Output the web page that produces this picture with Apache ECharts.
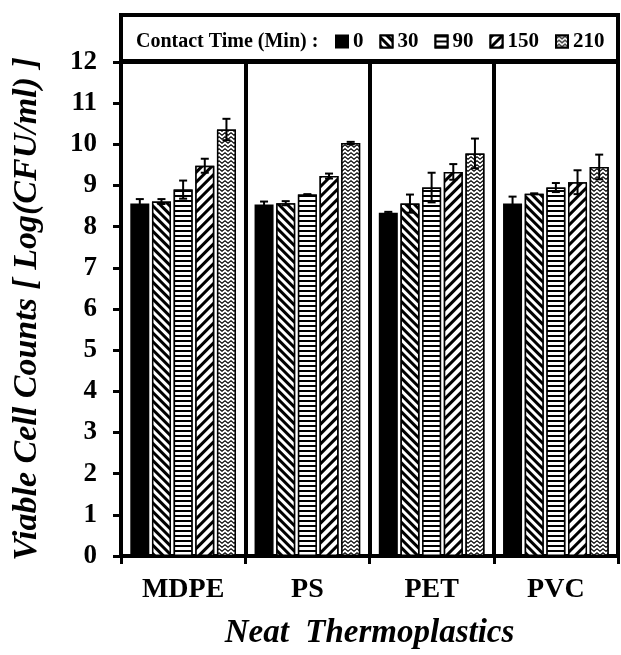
<!DOCTYPE html>
<html>
<head>
<meta charset="utf-8">
<script src="https://cdn.jsdelivr.net/npm/echarts@6/dist/echarts.min.js"></script>
<style>
  html, body { margin: 0; padding: 0; background: #fff; }
  #chart { width: 621px; height: 655px; }
</style>
</head>
<body>
<div id="chart"></div>
<script>
// plastics on the x axis, contact times in the legend
const categories = ["MDPE", "PS", "PET", "PVC"];
const times = ["0", "30", "90", "150", "210"];

// mean log(CFU/ml) for each contact time
const t0 = [8.56, 8.54, 8.34, 8.56];
const t30 = [8.61, 8.57, 8.56, 8.80];
const t90 = [8.90, 8.78, 8.95, 8.95];
const t150 = [9.48, 9.23, 9.33, 9.08];
const t210 = [10.36, 10.03, 9.78, 9.45];

// error bar half-lengths
const e0 = [0.11, 0.07, 0.02, 0.17];
const e30 = [0.06, 0.05, 0.22, 0.01];
const e90 = [0.22, 0.01, 0.36, 0.11];
const e150 = [0.17, 0.06, 0.19, 0.29];
const e210 = [0.26, 0.03, 0.36, 0.30];

const yTicks = { min: 0, max: 12, interval: 1 };

const means = [t0, t30, t90, t150, t210];
const errs = [e0, e30, e90, e150, e210];

const font = "Liberation Serif";
const barWidth = 19;
const barGap = 0.14;

// fill patterns, one per contact time
const decals = [
  null,
  { symbol: "rect", symbolSize: 1, color: "#000", backgroundColor: "#fff",
    dashArrayX: [1, 0], dashArrayY: [3, 3], rotation: Math.PI / 4 },
  { symbol: "rect", symbolSize: 1, color: "#000", backgroundColor: "#fff",
    dashArrayX: [1, 0], dashArrayY: [2, 3], rotation: 0 },
  { symbol: "rect", symbolSize: 1, color: "#000", backgroundColor: "#fff",
    dashArrayX: [1, 0], dashArrayY: [3, 4], rotation: -Math.PI / 4 },
  { symbol: "path://M0,3 L3,0 L6,3 L6,5 L3,2 L0,5 Z", symbolSize: 1, symbolKeepAspect: false,
    color: "#000", backgroundColor: "#fff",
    dashArrayX: [6, 0], dashArrayY: [4, 0], rotation: 0 }
];

const barSeries = times.map(function (t, i) {
  return {
    name: t,
    type: "bar",
    barWidth: barWidth,
    barGap: (barGap * 100) + "%",
    data: means[i],
    itemStyle: {
      color: i === 0 ? "#000" : "#fff",
      borderColor: "#000",
      borderWidth: 1.5,
      decal: decals[i] || undefined
    },
    z: 2
  };
});

const errData = [];
means.forEach(function (arr, s) {
  arr.forEach(function (v, c) {
    errData.push([c, v, errs[s][c], s]);
  });
});

const errSeries = {
  type: "custom",
  data: errData,
  encode: { x: 0, y: 1 },
  z: 5,
  silent: true,
  renderItem: function (params, api) {
    const c = api.value(0), v = api.value(1), e = api.value(2), s = api.value(3);
    const pitch = barWidth * (1 + barGap);
    const x = api.coord([c, v])[0] + (s - 2) * pitch;
    const hi = api.coord([c, v + e])[1];
    const lo = api.coord([c, v - e])[1];
    const cap = 4;
    const st = { stroke: "#000", lineWidth: 2 };
    return {
      type: "group",
      children: [
        { type: "line", shape: { x1: x, y1: hi, x2: x, y2: lo }, style: st },
        { type: "line", shape: { x1: x - cap, y1: hi, x2: x + cap, y2: hi }, style: st },
        { type: "line", shape: { x1: x - cap, y1: lo, x2: x + cap, y2: lo }, style: st }
      ]
    };
  }
};

const chart = echarts.init(document.getElementById("chart"));
chart.setOption({
  animation: false,
  backgroundColor: "#fff",
  textStyle: { fontFamily: font },
  title: {
    text: "Contact Time (Min) :",
    left: 131,
    top: 27,
    textStyle: { fontFamily: font, fontSize: 20, fontWeight: "bold", color: "#000" }
  },
  legend: {
    data: times,
    left: 335,
    top: 31,
    width: 285,
    padding: 0,
    icon: "rect",
    itemWidth: 12,
    itemHeight: 12,
    itemGap: 16,
    textStyle: { fontFamily: font, fontSize: 21, fontWeight: "bold", color: "#000" }
  },
  graphic: [{
    type: "rect",
    shape: { x: 121, y: 15, width: 497, height: 46 },
    style: { fill: "none", stroke: "#000", lineWidth: 4 },
    z: 10
  }],
  grid: {
    left: 121,
    right: 3,
    top: 62,
    bottom: 96,
    show: true,
    borderColor: "#000",
    borderWidth: 4
  },
  xAxis: {
    type: "category",
    data: categories,
    name: "Neat  Thermoplastics",
    nameLocation: "middle",
    nameGap: 61,
    nameTextStyle: { fontFamily: font, fontSize: 33, fontWeight: "bold", fontStyle: "italic", color: "#000" },
    axisLine: { lineStyle: { color: "#000", width: 4 } },
    axisTick: { show: true, length: 8, lineStyle: { color: "#000", width: 3 } },
    splitLine: { show: true, lineStyle: { color: "#000", width: 4 } },
    axisLabel: { margin: 20, fontFamily: font, fontSize: 28, fontWeight: "bold", color: "#000" }
  },
  yAxis: {
    type: "value",
    min: yTicks.min,
    max: yTicks.max,
    interval: yTicks.interval,
    name: "Viable Cell Counts [ Log(CFU/ml) ]",
    nameLocation: "middle",
    nameGap: 77,
    nameTextStyle: { fontFamily: font, fontSize: 34, fontWeight: "bold", fontStyle: "italic", color: "#000" },
    axisLine: { show: true, lineStyle: { color: "#000", width: 4 } },
    axisTick: { show: true, length: 8, lineStyle: { color: "#000", width: 3 } },
    splitLine: { show: false },
    axisLabel: { margin: 24, fontFamily: font, fontSize: 27, fontWeight: "bold", color: "#000" }
  },
  series: barSeries.concat([errSeries])
});
</script>
</body>
</html>
